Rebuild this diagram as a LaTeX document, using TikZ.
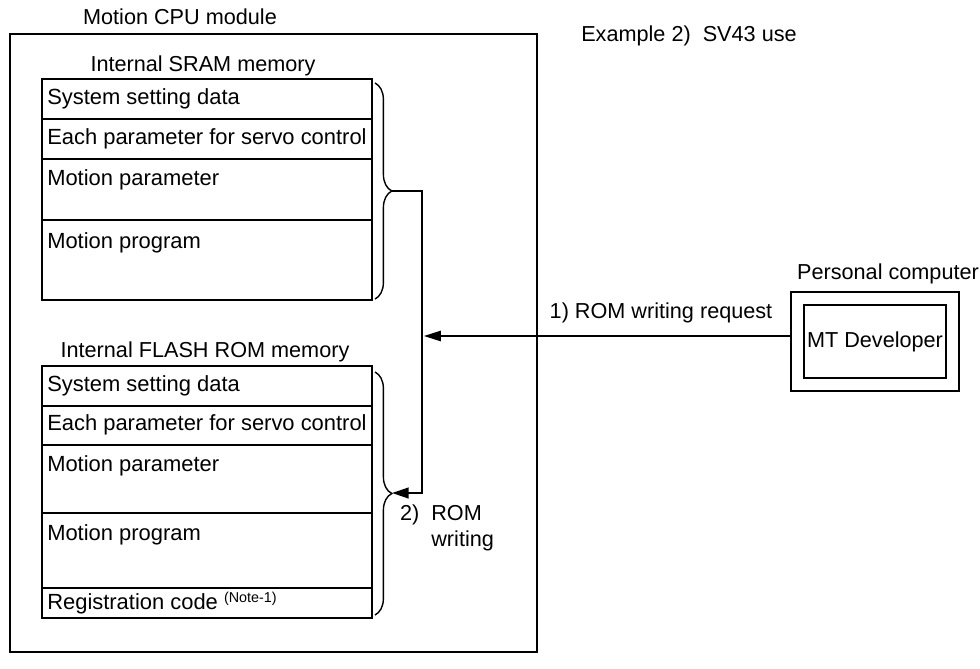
\documentclass[tikz,border=0pt]{standalone}
\usepackage{fontspec}
\setmainfont{Liberation Sans}
\usetikzlibrary{arrows.meta,decorations.pathreplacing}

\begin{document}
\begin{tikzpicture}[
  lbl/.style={font=\fontsize{15.4}{18.5}\selectfont, inner sep=0pt},
  rowtxt/.style={lbl, font=\fontsize{15.6}{18.5}\selectfont, anchor=west},
  frame/.style={line width=1.1pt},
  membrace/.style={decorate, decoration={brace, amplitude=0.42cm}, line width=1pt},
  feed/.style={line width=2pt, -{Triangle[length=4.2mm,width=2.6mm]}},
  req/.style={line width=0.9pt, -{Triangle[length=4.2mm,width=2.6mm]}}
]
\useasboundingbox (0,0) rectangle (24.5,-16.7);
% module frame
\draw[frame] (0.250,-0.850) rectangle (13.425,-16.300);
\node[lbl] (cpu) at (4.500,-0.425) {Motion CPU module};
\node[lbl] (example) at (17.225,-0.900) {Example 2)\ \ SV43 use};
% internal SRAM memory
\node[lbl] (sram) at (5.075,-1.650) {Internal SRAM memory};
\draw[frame] (1.050,-1.975) rectangle (9.300,-7.500);
\draw[frame] (1.050,-2.975) -- (9.300,-2.975);
\draw[frame] (1.050,-3.975) -- (9.300,-3.975);
\draw[frame] (1.050,-5.500) -- (9.300,-5.500);
\node[rowtxt] (sram1) at (1.175,-2.475) {System setting data};
\node[rowtxt] (sram2) at (1.175,-3.475) {Each parameter for servo control};
\node[rowtxt] (sram3) at (1.175,-4.500) {Motion parameter};
\node[rowtxt] (sram4) at (1.175,-6.075) {Motion program};
% internal FLASH ROM memory
\node[lbl] (flash) at (5.125,-8.800) {Internal FLASH ROM memory};
\draw[frame] (1.050,-9.150) rectangle (9.300,-15.450);
\draw[frame] (1.050,-10.150) -- (9.300,-10.150);
\draw[frame] (1.050,-11.125) -- (9.300,-11.125);
\draw[frame] (1.050,-12.825) -- (9.300,-12.825);
\draw[frame] (1.050,-14.700) -- (9.300,-14.700);
\node[rowtxt] (flash1) at (1.175,-9.650) {System setting data};
\node[rowtxt] (flash2) at (1.175,-10.625) {Each parameter for servo control};
\node[rowtxt] (flash3) at (1.175,-11.650) {Motion parameter};
\node[rowtxt] (flash4) at (1.175,-13.375) {Motion program};
\node[rowtxt] (flash5) at (1.175,-15.075) {Registration code\ \raisebox{0.55ex}{\fontsize{10.2}{12}\selectfont (Note-1)}};
% braces and ROM writing path
\draw[membrace] (9.375,-2.075) -- (9.375,-7.475);
\draw[membrace] (9.375,-9.300) -- (9.375,-15.375);
\coordinate (utip) at (9.795,-4.775);
\coordinate (ltip) at (9.795,-12.325);
\coordinate (bus) at (10.550,0);
\draw[feed] (utip) -- (utip -| bus) -- (ltip -| bus) -- (ltip);
\node[lbl, align=left] (romwr) at (11.175,-13.200) {2)\ \ ROM\\\hphantom{2)\ \ }writing};
% personal computer
\node[draw, frame, minimum width=4.2cm, minimum height=2.475cm] (pc) at (21.875,-8.5375) {};
\node[draw, frame, lbl, minimum width=3.55cm, minimum height=1.825cm] (mtdev) at (pc.center) {MT Developer};
\node[lbl] (pclbl) at (22.200,-6.850) {Personal computer};
\coordinate (reqend) at (10.600,-8.400);
\draw[req] (pc.west |- reqend) -- (reqend);
\node[lbl] (reqlbl) at (16.525,-7.825) {1) ROM writing request};
\end{tikzpicture}
\end{document}
